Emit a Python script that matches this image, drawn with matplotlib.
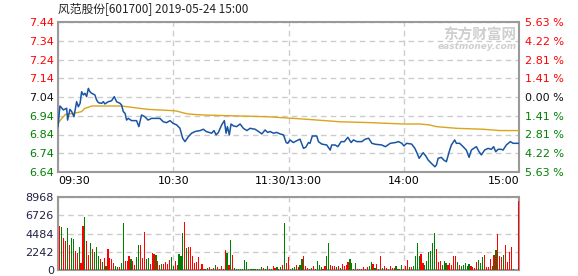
"""
plot.py
-------
Intraday time-share chart (price + average line, volume bars) for 风范股份.
"""

import matplotlib
matplotlib.use("Agg")

import matplotlib.pyplot as plt
import numpy as np

# ── Colours ────────────────────────────────────────────────────────────────────
COLOR_PRICE = "#1a55a5"
COLOR_AVG   = "#dba41c"
COLOR_UP    = "#ff0000"
COLOR_DOWN  = "#008000"
COLOR_FLAT  = "#111111"
COLOR_SPINE = "#9a9a9a"
COLOR_GRID  = "#cccccc"

CJK = ["Noto Sans CJK SC", "DejaVu Sans"]

# ── Data ───────────────────────────────────────────────────────────────────────
TITLE = "风范股份[601700] 2019-05-24 15:00"
PREV_CLOSE = 7.04

price_ticks = [7.44, 7.34, 7.24, 7.14, 7.04, 6.94, 6.84, 6.74, 6.64]
pct_labels  = ["5.63", "4.22", "2.81", "1.41", "0.00", "1.41", "2.81", "4.22", "5.63"]

time_ticks  = [0, 60, 120, 180, 240]
time_labels = ["09:30", "10:30", "11:30/13:00", "14:00", "15:00"]

vol_ticks = [0, 2242, 4484, 6726, 8968]

# minutes after 09:30 (trading time) and last price
price_min = [
    0, 1, 2.8, 4.5, 5, 6.2, 7.1, 8.3, 9.7, 10.6, 11.5, 12.3, 13.2, 14, 14.9,
    15.8, 16.6, 17.5, 19.2, 20.1, 21, 22.7, 23.6, 24.4, 26.2, 27.9, 29.3,
    30.5, 32.3, 33.1, 34, 34.9, 35.7, 36.6, 38.3, 40.9, 42.1, 43.5, 45.2,
    46.9, 48.7, 50.4, 53, 54.8, 56.5, 58.3, 60,
    61.8, 63.5, 64.9, 66.1, 67, 67.9, 69.6, 71.4, 74, 75.7, 77.1, 80, 81.2,
    82.3, 83.5, 85.2, 86.6, 87.5, 88.2, 89.2, 90.1, 91.3, 93, 94.8, 96.5,
    98.3, 100, 102.6, 104.4, 106.1, 107.8, 109.2, 110.4, 112.2, 113.9,
    115.6, 117.4, 118.8,
    119.6, 120.8, 122.5, 124.3, 126, 127.8, 129, 130.4, 131.2, 132.4, 134.7,
    135.6, 137.3, 139.9, 141.7, 142.5, 144.3, 145.7, 147.4, 149.1, 150.9,
    152.6, 153.8, 155.6, 158.2, 159.9, 161.7, 163.4, 165.2, 168.6, 170.4,
    173, 175.6, 177.3, 179, 180.1,
    181.5, 184.1, 185.8, 187, 188, 189.3, 190.1, 191.5, 192.7, 194.4, 196.2,
    197, 197.9, 199.6, 200.8, 202.2, 203.9, 204.8, 206.5, 207.4, 209.1,
    210.9, 212.6, 214, 215.2, 216.4, 217.8, 219.2, 220.4, 222.1, 223.9,
    225.6, 226.8, 227.9, 229.1, 230.8, 231.7, 233.4, 235.5, 236.9, 240,
]
price_val = [
    6.882, 6.992, 6.971, 6.980, 6.917, 6.974, 6.963, 6.935, 7.015, 6.988,
    7.006, 7.068, 7.051, 7.060, 7.042, 7.086, 7.068, 7.060, 7.051, 7.024,
    7.010, 7.006, 7.015, 7.003, 7.015, 7.020, 7.042, 7.015, 7.006, 6.997,
    6.962, 6.953, 6.917, 6.926, 6.914, 6.914, 6.882, 6.944, 6.935, 6.917,
    6.926, 6.926, 6.926, 6.908, 6.903, 6.914, 6.899,
    6.891, 6.873, 6.820, 6.802, 6.815, 6.829, 6.847, 6.856, 6.861, 6.868,
    6.856, 6.847, 6.861, 6.838, 6.851, 6.891, 6.914, 6.847, 6.882, 6.838,
    6.896, 6.886, 6.882, 6.896, 6.873, 6.861, 6.873, 6.868, 6.856, 6.843,
    6.864, 6.851, 6.856, 6.847, 6.851, 6.843, 6.838, 6.797,
    6.793, 6.811, 6.797, 6.807, 6.815, 6.766, 6.772, 6.797, 6.793, 6.832,
    6.832, 6.802, 6.789, 6.784, 6.757, 6.784, 6.784, 6.775, 6.802, 6.802,
    6.825, 6.797, 6.811, 6.802, 6.802, 6.815, 6.820, 6.793, 6.788, 6.784,
    6.775, 6.793, 6.797, 6.802, 6.793, 6.779,
    6.793, 6.789, 6.766, 6.739, 6.713, 6.731, 6.743, 6.725, 6.704, 6.686,
    6.668, 6.677, 6.713, 6.718, 6.704, 6.695, 6.757, 6.784, 6.811, 6.793,
    6.793, 6.775, 6.757, 6.718, 6.757, 6.766, 6.775, 6.748, 6.731, 6.757,
    6.766, 6.761, 6.775, 6.748, 6.761, 6.761, 6.757, 6.784, 6.802, 6.793,
    6.793,
]

# running average price
avg_min = [0, 2, 4, 8.3, 12.3, 14, 15.8, 17.5, 33, 38.3, 46.9, 60, 61.8, 65,
           68, 75.7, 89.5, 108.6, 118, 126.9, 139, 146.5, 163.4, 179.9, 188.4,
           193.5, 197, 207.4, 221.3, 230, 240]
avg_val = [6.900, 6.926, 6.948, 6.953, 6.962, 6.980, 6.985, 6.992, 6.992,
           6.985, 6.974, 6.967, 6.965, 6.956, 6.949, 6.944, 6.940, 6.935,
           6.929, 6.923, 6.914, 6.908, 6.903, 6.896, 6.896, 6.891, 6.882,
           6.873, 6.868, 6.861, 6.861]

# per-minute volume (minutes 1..240)
volumes = [
    5350, 5270, 3970, 3510, 5100, 3090, 3970, 3850, 2380, 2090,
    2840, 840, 5350, 6520, 3510, 1880, 3340, 2590, 2260, 2840,
    1760, 1380, 1000, 1460, 500, 2590, 1460, 1380, 840, 500,
    330, 330, 840, 5770, 1130, 1130, 1760, 1380, 1130, 630,
    1630, 3090, 3090, 1460, 4640, 1380, 1500, 750, 2130, 2010,
    1880, 1130, 630, 750, 750, 1000, 750, 1250, 1590,
    500, 1130, 630, 2010, 1760, 4510, 5890, 2760, 2880, 2880,
    1760, 880, 1000, 1630, 125, 750, 125, 125, 250, 380,
    125, 250, 630, 380, 125, 500, 125, 2510, 2130, 630,
    3640, 1880, 250, 125, 125, 125, 125, 1250, 1000, 125,
    125, 125, 125, 125, 125, 125, 380, 250, 125, 500,
    125, 125, 500, 250, 380, 125, 380, 630,
    5770, 880, 1630, 125, 250, 380, 630, 380, 630, 1380,
    1760, 500, 250, 125, 250, 500, 125, 1130, 630, 380,
    125, 500, 1760, 3260, 630, 500, 500, 380, 500, 250,
    750, 500, 630, 1000, 1380, 880, 125, 880, 125, 125,
    125, 380, 125, 380, 500, 1000, 750, 250, 750, 125,
    1760, 250, 500, 250, 125, 500, 250, 250, 500, 125,
    125, 630,
    125, 500, 1250, 380, 380, 500, 1760, 3260, 1760, 2010,
    880, 630, 1130, 2260, 2380, 3260, 4510, 2630, 1000, 1130,
    630, 1130, 880, 630, 880, 630, 1760, 1760, 1000, 630,
    500, 630, 880, 500, 750, 500, 380, 250, 1000, 1250,
    880, 1630, 1880, 380, 380, 1380, 500, 1880, 2510, 4390,
    1760, 1630, 1880, 3010, 1000, 2260, 2880, 125, 0, 0,
    8530,
]
# bar direction for the same minutes: R = up (red), G = down (green)
vol_dirs = "".join([
    "RGRRGRGGRR", "GRRGRRGRGG", "GRGRGRRRRG", "GRGGRRRGRR", "GGRRRGGRRR",
    "GRRGRRRRG",
    "GRRGGGRGRR", "RRRRGRRGGR", "GRGRGRRRGR", "GRGGGGGGGR", "GGGGGGGRGG",
    "RGRRGRGR",
    "GRRGGGRRGG", "RRRRGRRGGG", "RRGGRRRGRG", "RRRRGGRGRR", "RRRRGGRGRG",
    "RGRRGRRRGG", "RG",
    "RRRGRGGGGR", "RGGGGGGRRR", "GGGRRRRRGR", "GGGGGRRRRG", "GGRRRRGRGR",
    "RRGRRRRGRR", "R",
])

# ── Figure ─────────────────────────────────────────────────────────────────────
fig = plt.figure(figsize=(5.78, 2.76), dpi=100)
ax_p = fig.add_axes([58 / 578, 1 - 172 / 276, 461 / 578, 150 / 276])
ax_v = fig.add_axes([58 / 578, 1 - 270 / 276, 461 / 578, 73 / 276])


def _frame(ax):
    for sp in ax.spines.values():
        sp.set_color(COLOR_SPINE)
        sp.set_linewidth(1.5)
    ax.grid(True, linestyle=(0, (4, 3)), color=COLOR_GRID, linewidth=1.0)
    ax.set_axisbelow(True)
    ax.tick_params(length=0, labelsize=8, pad=3)
    ax.set_xlim(0, 240)
    ax.set_xticks(time_ticks)


# ── Price panel ────────────────────────────────────────────────────────────────
_frame(ax_p)
ax_p.plot(avg_min, avg_val, color=COLOR_AVG, lw=1.0, zorder=3)
ax_p.plot(price_min, price_val, color=COLOR_PRICE, lw=1.1, zorder=4)
ax_p.set_ylim(price_ticks[-1], price_ticks[0])
ax_p.set_yticks(price_ticks)
ax_p.set_yticklabels([f"{p:.2f}" for p in price_ticks])
ax_p.set_xticklabels(time_labels)
xl = ax_p.get_xticklabels()
xl[0].set_ha("left")
xl[-1].set_ha("right")


def _tick_color(p):
    if p > PREV_CLOSE + 1e-6:
        return COLOR_UP
    if p < PREV_CLOSE - 1e-6:
        return COLOR_DOWN
    return COLOR_FLAT


for lab, p in zip(ax_p.get_yticklabels(), price_ticks):
    lab.set_color(_tick_color(p))

ax_r = ax_p.twinx()
ax_r.set_ylim(ax_p.get_ylim())
ax_r.set_yticks(price_ticks)
ax_r.set_yticklabels([f"{s} %" for s in pct_labels])
ax_r.tick_params(length=0, labelsize=8, pad=4)
for sp in ax_r.spines.values():
    sp.set_visible(False)
for lab, p in zip(ax_r.get_yticklabels(), price_ticks):
    lab.set_color(_tick_color(p))

# watermark
ax_p.text(0.995, 0.915, "东方财富网", transform=ax_p.transAxes, ha="right",
          va="center", fontsize=10.5, fontweight="bold", color="#cfcfcf",
          family=CJK, zorder=1)
ax_p.text(0.995, 0.835, "eastmoney.com", transform=ax_p.transAxes, ha="right",
          va="center", fontsize=6.5, fontweight="bold", style="italic",
          color="#cfcfcf", zorder=1)

# ── Volume panel ───────────────────────────────────────────────────────────────
_frame(ax_v)
minutes = np.arange(1, len(volumes) + 1)
bar_colors = [COLOR_UP if d == "R" else COLOR_DOWN for d in vol_dirs]
ax_v.bar(minutes, volumes, width=0.6, color=bar_colors, zorder=3,
         antialiased=False, linewidth=0)
ax_v.set_ylim(0, vol_ticks[-1])
ax_v.set_yticks(vol_ticks)
ax_v.set_yticklabels([str(v) for v in vol_ticks], color="#222244")
ax_v.set_xticklabels([])

# ── Title ──────────────────────────────────────────────────────────────────────
fig.text(58 / 578, 1 - 9 / 276, TITLE, ha="left", va="center", fontsize=8.5,
         color="#222222", family=CJK)

fig.savefig("out.png", dpi=100)
